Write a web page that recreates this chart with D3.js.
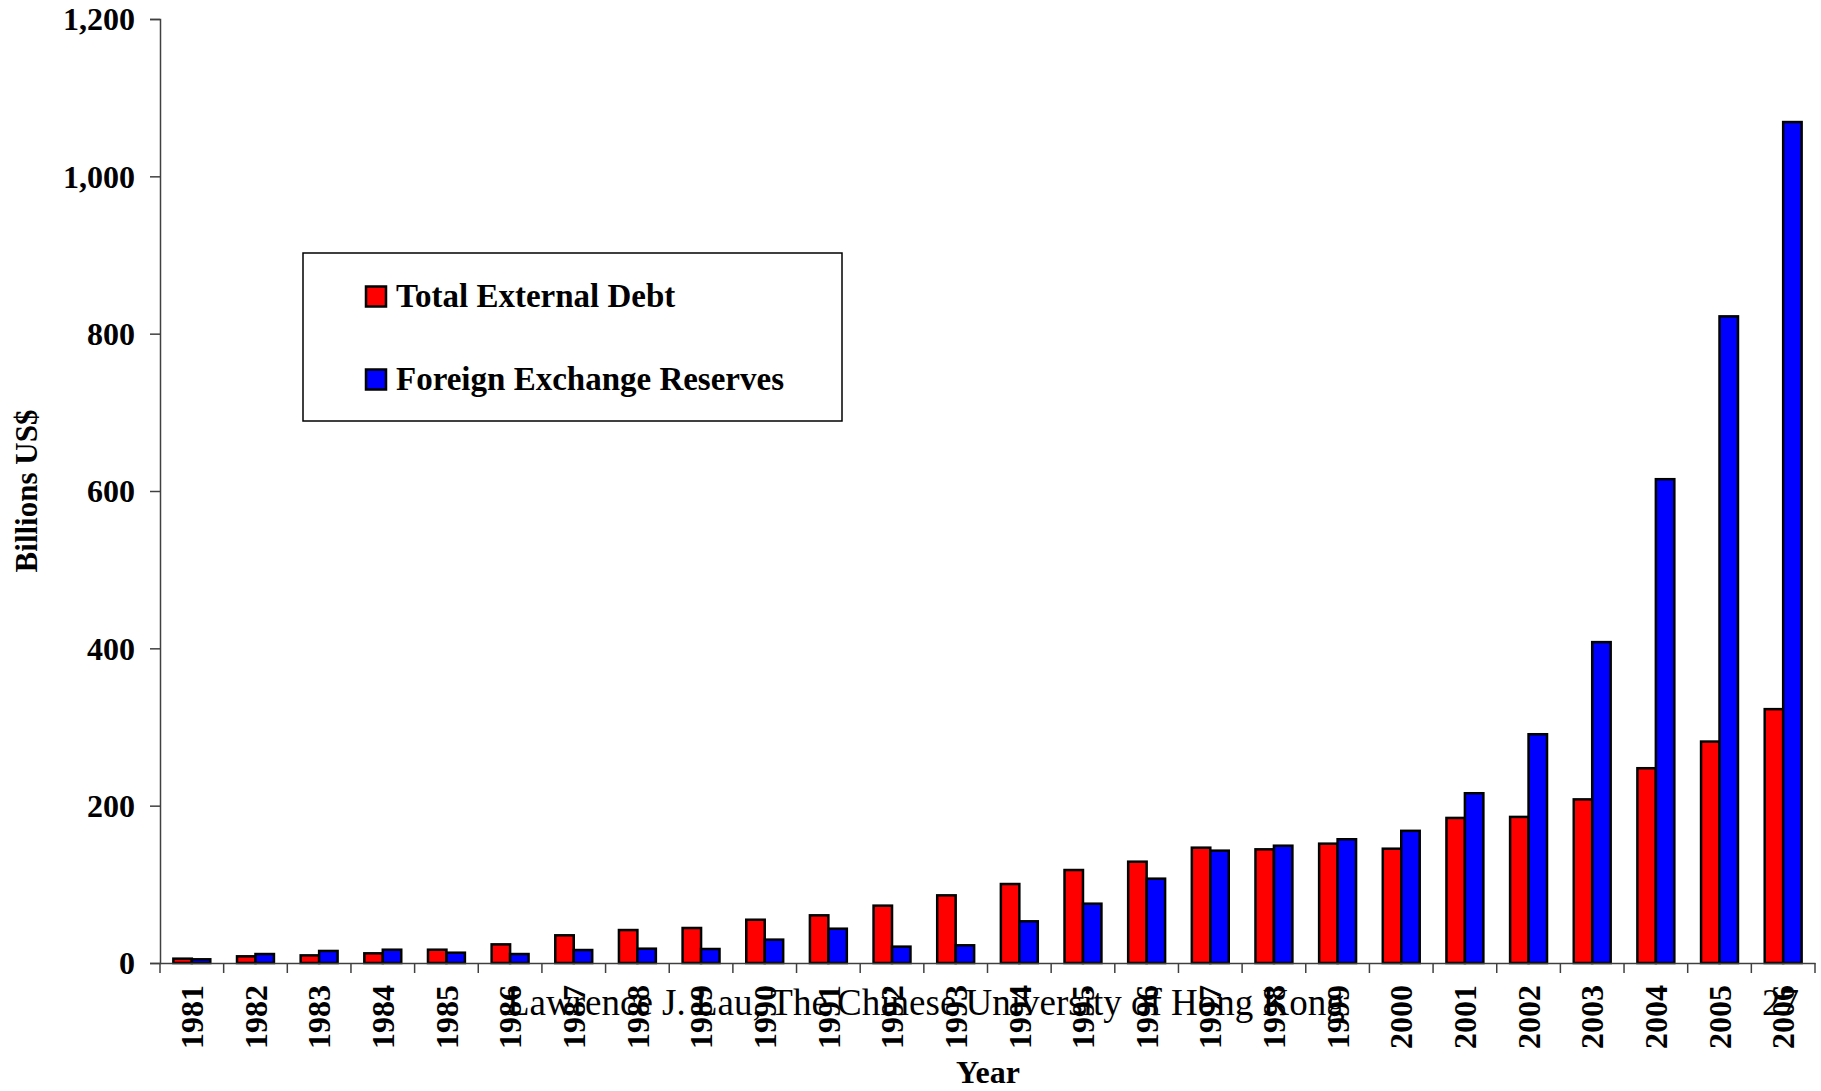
<!DOCTYPE html>
<html>
<head>
<meta charset="utf-8">
<script src="https://cdn.jsdelivr.net/npm/d3@7"></script>
<style>
  body { margin: 0; background: #fff; }
  svg { display: block; }
  text { font-family: "Liberation Serif", "Times New Roman", serif; }
</style>
</head>
<body>
<div id="chart"></div>
<script>
// 数据：年份、外债总额、外汇储备（十亿美元）
const years = ['1981','1982','1983','1984','1985','1986','1987','1988','1989','1990',
  '1991','1992','1993','1994','1995','1996','1997','1998','1999','2000',
  '2001','2002','2003','2004','2005','2006'];
const debt = [5.5, 8.5, 9.7, 12.3, 16.9, 23.7, 35.2, 41.9, 44.5, 55, 60.6, 72.9, 86,
  100.4, 118.2, 128.8, 146.6, 144.5, 151.7, 145.3, 184.4, 185.7, 208, 247.6, 281.5, 322.7];
const reserves = [4.7, 11.4, 15.3, 16.9, 13.1, 11.4, 16.5, 18.2, 17.8, 29.7, 43.6, 20.8, 22.5,
  53, 75.4, 107.2, 142.8, 149.1, 157.3, 168, 215.8, 290.8, 407.9, 615, 822, 1069];
const seriesNames = ['Total External Debt', 'Foreign Exchange Reserves'];
const seriesColors = ['#ff0000', '#0000ff'];
const yTicks = [0, 200, 400, 600, 800, 1000, 1200];

function drawChart() {
  const width = 1821;
  const height = 1091;
  const left = 160, right = 1815, top = 19, bottom = 963;

  const svg = d3.select('#chart')
    .append('svg')
    .attr('width', width)
    .attr('height', height);

  const x = d3.scaleBand()
    .domain(years)
    .range([left, right]);

  const x1 = d3.scaleBand()
    .domain(seriesNames)
    .range([x.bandwidth() * 0.21, x.bandwidth() * 0.79]);

  const y = d3.scaleLinear()
    .domain([0, 1200])
    .range([bottom, top]);

  const rows = years.map((yr, i) => ({ year: yr, values: [debt[i], reserves[i]] }));

  // 柱子
  const groups = svg.append('g')
    .selectAll('g')
    .data(rows)
    .enter()
    .append('g')
    .attr('transform', d => `translate(${x(d.year)},0)`);

  groups.selectAll('rect')
    .data(d => d.values.map((v, k) => ({ name: seriesNames[k], value: v, k: k })))
    .enter()
    .append('rect')
    .attr('x', d => x1(d.name))
    .attr('y', d => y(d.value))
    .attr('width', x1.bandwidth())
    .attr('height', d => y(0) - y(d.value))
    .attr('fill', d => seriesColors[d.k])
    .attr('stroke', '#000')
    .attr('stroke-width', 2.5);

  // y 轴
  const yAxis = svg.append('g')
    .attr('transform', `translate(${left},0)`)
    .call(d3.axisLeft(y).tickValues(yTicks).tickSize(10).tickPadding(15).tickFormat(d3.format(',')));
  yAxis.select('.domain').attr('stroke', '#404040').attr('stroke-width', 1.5);
  yAxis.selectAll('.tick line').attr('stroke', '#404040').attr('stroke-width', 1.5);
  yAxis.selectAll('text')
    .attr('fill', '#000')
    .style('font-size', '32px')
    .style('font-weight', 'bold')
    .attr('dy', '0.34em');

  // x 轴：刻度在类别之间
  const xAxis = svg.append('g')
    .attr('transform', `translate(0,${bottom})`)
    .call(d3.axisBottom(x).tickSize(0).tickPadding(0));
  xAxis.select('.domain').attr('stroke', '#404040').attr('stroke-width', 1.5);
  xAxis.selectAll('.tick text')
    .attr('fill', '#000')
    .style('font-size', '32px')
    .style('font-weight', 'bold')
    .style('text-anchor', 'end')
    .attr('x', 0)
    .attr('y', 0)
    .attr('dy', '0.35em')
    .attr('transform', 'translate(0,22) rotate(-90)');

  xAxis.selectAll('.boundary')
    .data(years.map(d => x(d)).concat([right]))
    .enter()
    .append('line')
    .attr('class', 'boundary')
    .attr('x1', d => d)
    .attr('x2', d => d)
    .attr('y1', 0)
    .attr('y2', 10)
    .attr('stroke', '#404040')
    .attr('stroke-width', 1.5);

  // 轴标题
  svg.append('text')
    .attr('x', 988)
    .attr('y', 1083)
    .attr('text-anchor', 'middle')
    .style('font-size', '32px')
    .style('font-weight', 'bold')
    .text('Year');

  svg.append('text')
    .attr('transform', 'translate(37,491) rotate(-90)')
    .attr('text-anchor', 'middle')
    .style('font-size', '31px')
    .style('font-weight', 'bold')
    .text('Billions US$');

  // 图例
  const legend = svg.append('g');
  legend.append('rect')
    .attr('x', 303)
    .attr('y', 253)
    .attr('width', 539)
    .attr('height', 168)
    .attr('fill', '#fff')
    .attr('stroke', '#000')
    .attr('stroke-width', 1.5);

  seriesNames.forEach((name, k) => {
    const ly = 286.5 + k * 83;
    legend.append('rect')
      .attr('x', 366)
      .attr('y', ly)
      .attr('width', 20)
      .attr('height', 20)
      .attr('fill', seriesColors[k])
      .attr('stroke', '#000')
      .attr('stroke-width', 2.5);
    legend.append('text')
      .attr('x', 396)
      .attr('y', ly + 20.5)
      .style('font-size', '33px')
      .style('font-weight', 'bold')
      .text(name);
  });

  // 页脚文字
  svg.append('text')
    .attr('x', 507)
    .attr('y', 1015)
    .style('font-size', '37px')
    .text('Lawrence J. Lau, The Chinese University of Hong Kong');

  svg.append('text')
    .attr('x', 1762)
    .attr('y', 1015)
    .style('font-size', '37px')
    .text('27');
}

drawChart();
</script>
</body>
</html>
